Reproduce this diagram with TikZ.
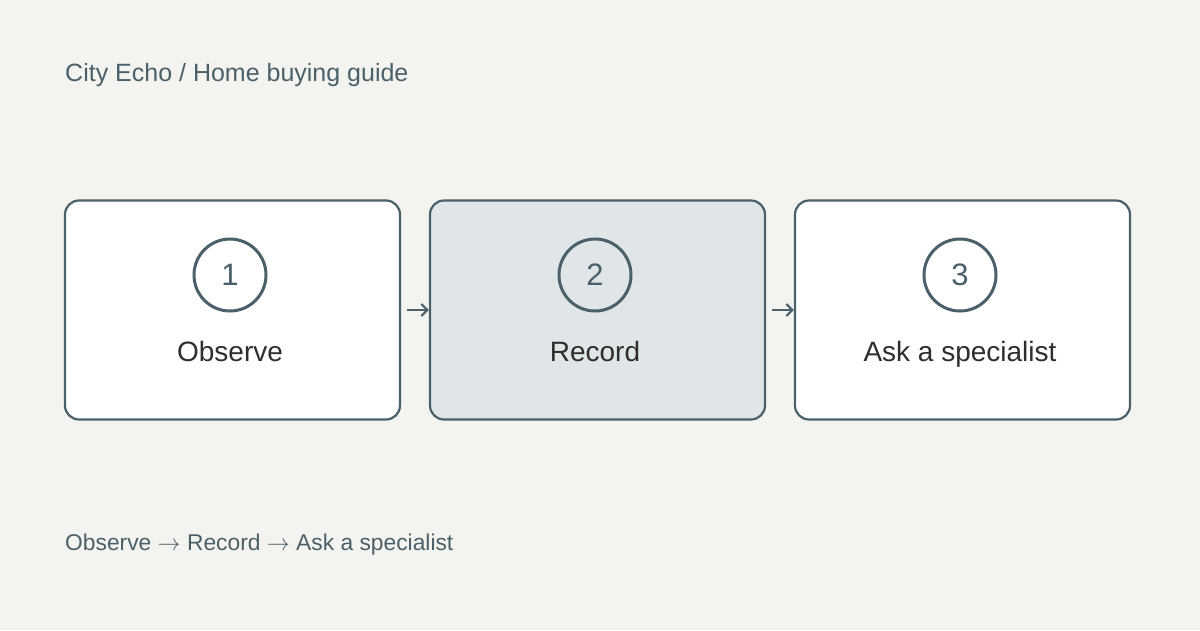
\documentclass[tikz,border=0pt]{standalone}
\usepackage{graphicx}
\usepackage{fontspec}
\setmainfont{Liberation Sans}
\usetikzlibrary{arrows.meta}
\definecolor{bg}{HTML}{F3F4EF}
\definecolor{slate}{HTML}{4A606B}
\definecolor{midfill}{HTML}{E0E6E8}
\definecolor{ink}{HTML}{2E2E2E}
\tikzset{
  stepbox/.style={draw=slate, line width=2.2pt, rounded corners=14pt, minimum width=335pt, minimum height=219pt, fill=white},
  numcirc/.style={circle, draw=slate, line width=3pt, minimum size=72pt, inner sep=0pt, text=slate, font=\fontsize{31}{35}\selectfont},
  steplabel/.style={text=ink, font=\fontsize{28}{32}\selectfont, inner sep=0pt, anchor=base},
  conn/.style={draw=slate, line width=2.2pt, -{Straight Barb[length=6pt,width=12pt,line width=2.2pt]}},
  caption/.style={text=slate, anchor=base west, inner sep=0pt}
}
\newcommand{\farr}{\resizebox{23pt}{!}{$\rightarrow$}}
\begin{document}
\begin{tikzpicture}[x=1pt,y=-1pt]
\fill[bg] (0,0) rectangle (1200,630);
\useasboundingbox (0,0) rectangle (1200,630);
\node[caption, font=\fontsize{25}{28}\selectfont] (title) at (65,81) {City Echo / Home buying guide};
\node[stepbox] (b1) at (232.5,310) {};
\node[stepbox, fill=midfill] (b2) at (597.5,310) {};
\node[stepbox] (b3) at (962.5,310) {};
\node[numcirc] (c1) at (230,275) {1};
\node[numcirc] (c2) at (595,275) {2};
\node[numcirc] (c3) at (960,275) {3};
\node[steplabel] (l1) at (230,361) {Observe};
\node[steplabel] (l2) at (595,361) {Record};
\node[steplabel] (l3) at (960,361) {Ask a specialist};
\coordinate (a1s) at (407,310);
\coordinate (a2s) at (772,310);
\draw[conn] (a1s) -- (b2.west);
\draw[conn] (a2s) -- (b3.west);
\node[caption, font=\fontsize{22.8}{26}\selectfont] (foot) at (65,550) {Observe \farr{} Record \farr{} Ask a specialist};
\end{tikzpicture}
\end{document}
